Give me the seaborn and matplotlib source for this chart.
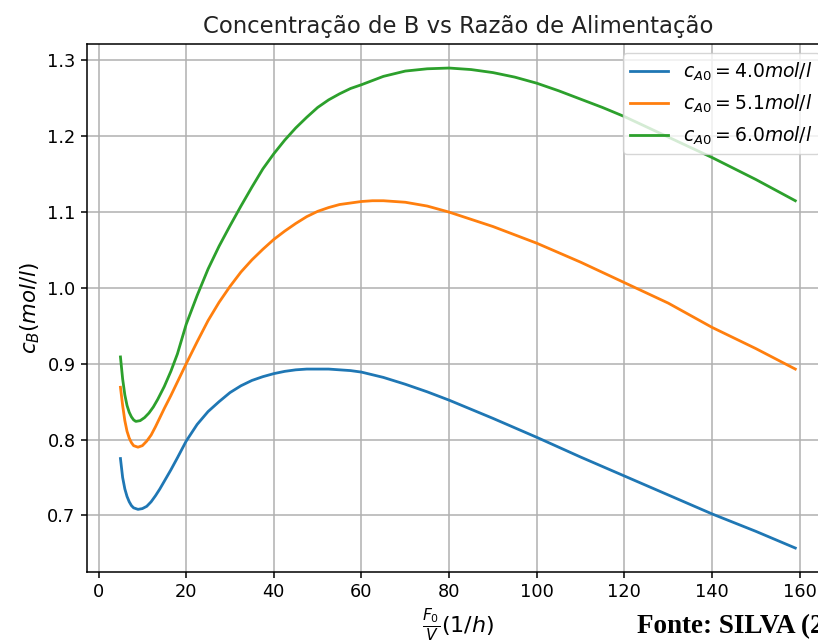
import numpy as np
import pandas as pd
import seaborn as sns
from matplotlib import pyplot as plt

# values
x_a = [5, 5.5, 6, 6.5, 7, 7.5, 8, 9, 10, 11, 12, 13, 14, 15, 16.5, 18, 20,
       22.5, 25, 27.5, 30, 32.5, 35, 37.5, 40, 42.5, 45, 47.5, 50, 52.5, 55,
       57.5, 60, 65, 70, 75, 80, 90, 100, 110, 120, 130, 140, 150, 159]
cb_a = [0.775, 0.750, 0.735, 0.725, 0.718, 0.713, 0.710, 0.708, 0.709, 0.712,
        0.718, 0.726, 0.735, 0.745, 0.760, 0.776, 0.798,
        0.820, 0.837, 0.850, 0.862, 0.871, 0.878, 0.883, 0.887, 0.890, 0.892,
        0.893, 0.893, 0.893, 0.892, 0.891, 0.889, 0.882, 0.873, 0.863, 0.852,
        0.828, 0.803, 0.777, 0.752, 0.727, 0.702, 0.679, 0.657]

x_b = [5, 5.5, 6, 6.5, 7, 7.5, 8, 9, 10, 11, 12, 13, 14, 15, 16.5, 18, 20,
       22.5, 25, 27.5, 30, 32.5, 35, 37.5, 40, 42.5, 45, 47.5, 50, 52.5, 55,
       57.5, 60, 62.5, 65, 67.5, 70, 75, 80, 90, 100, 110, 120, 130, 140, 150, 159]
cb_b = [0.869, 0.845, 0.825, 0.811, 0.802, 0.796, 0.792, 0.790, 0.792, 0.798,
        0.806, 0.817, 0.829, 0.841, 0.858, 0.876, 0.900,
        0.929, 0.957, 0.981, 1.002, 1.021, 1.037, 1.051, 1.064, 1.075, 1.085,
        1.094, 1.101, 1.106, 1.110, 1.112, 1.114, 1.115, 1.115, 1.114, 1.113,
        1.108, 1.100, 1.081, 1.059, 1.034, 1.007, 0.980, 0.948, 0.920, 0.893]

x_c = [5, 5.5, 6, 6.5, 7, 7.5, 8, 8.5, 9.5, 10.5, 11.5, 12.5, 13.5, 15, 16.5,
       18, 20, 22.5, 25, 27.5, 30, 32.5, 35, 37.5, 40, 42.5, 45, 47.5, 50,
       52.5, 55, 57.5, 60, 65, 70, 75, 80, 85, 90, 95, 100, 105, 110, 115,
       120, 130, 140, 150, 159]
cb_c = [0.909, 0.880, 0.859, 0.845, 0.836, 0.830, 0.826, 0.824, 0.825, 0.829,
        0.835, 0.843, 0.853, 0.870, 0.890, 0.913, 0.952, 0.990, 1.025, 1.055,
        1.082, 1.108, 1.133, 1.157, 1.177, 1.195, 1.211, 1.225, 1.238, 1.248,
        1.256, 1.263, 1.268, 1.279, 1.286, 1.289, 1.290, 1.288, 1.284, 1.278,
        1.270, 1.260, 1.249, 1.238, 1.226, 1.199, 1.172, 1.143, 1.115]

labels = [r'$c_{A0} = 4.0 mol/l$', r'$c_{A0} = 5.1 mol/l$', r'$c_{A0} = 6.0 mol/l$']
x_ticks = [0, 20, 40, 60, 80, 100, 120, 140, 160]
y_ticks = [0.7, 0.8, 0.9, 1.0, 1.1, 1.2, 1.3]

df = pd.concat([
    pd.DataFrame({'fv': x_a, 'cb': cb_a, 'caso': labels[0]}),
    pd.DataFrame({'fv': x_b, 'cb': cb_b, 'caso': labels[1]}),
    pd.DataFrame({'fv': x_c, 'cb': cb_c, 'caso': labels[2]}),
])

plt.rc('font', size=12.8)
plt.rc('xtick.major', size=4.5, width=1.1)
plt.rc('ytick.major', size=4.5, width=1.1)

fig = plt.figure(figsize=(8.18, 6.41), dpi=100)
ax = fig.add_axes([0.106, 0.1076, 0.9075, 0.8237])

sns.lineplot(data=df, x='fv', y='cb', hue='caso', palette=['C0', 'C1', 'C2'],
             linewidth=2.0, ax=ax, sort=False)

ax.grid(True, color='#b0b0b0', linewidth=1.1)
ax.set_axisbelow(True)
ax.set_xticks(x_ticks)
ax.set_yticks(y_ticks)
for s in ax.spines.values():
    s.set_linewidth(1.1)

ax.set_title('Concentração de B vs Razão de Alimentação', fontsize=16.4,
             color='#222222', pad=8)
ax.set_xlabel(r'$\frac{F_0}{V}(1/h)$', fontsize=16)
ax.set_ylabel(r'$c_B (mol/l)$', fontsize=15.4)

leg = ax.legend(loc='upper right', fontsize=13.5, framealpha=0.8)

fig.text(0.779, 0.013, 'Fonte: SILVA (2020)', family='Liberation Serif',
         fontweight='bold', fontsize=19.5)

fig.savefig('out.png', dpi=100)
